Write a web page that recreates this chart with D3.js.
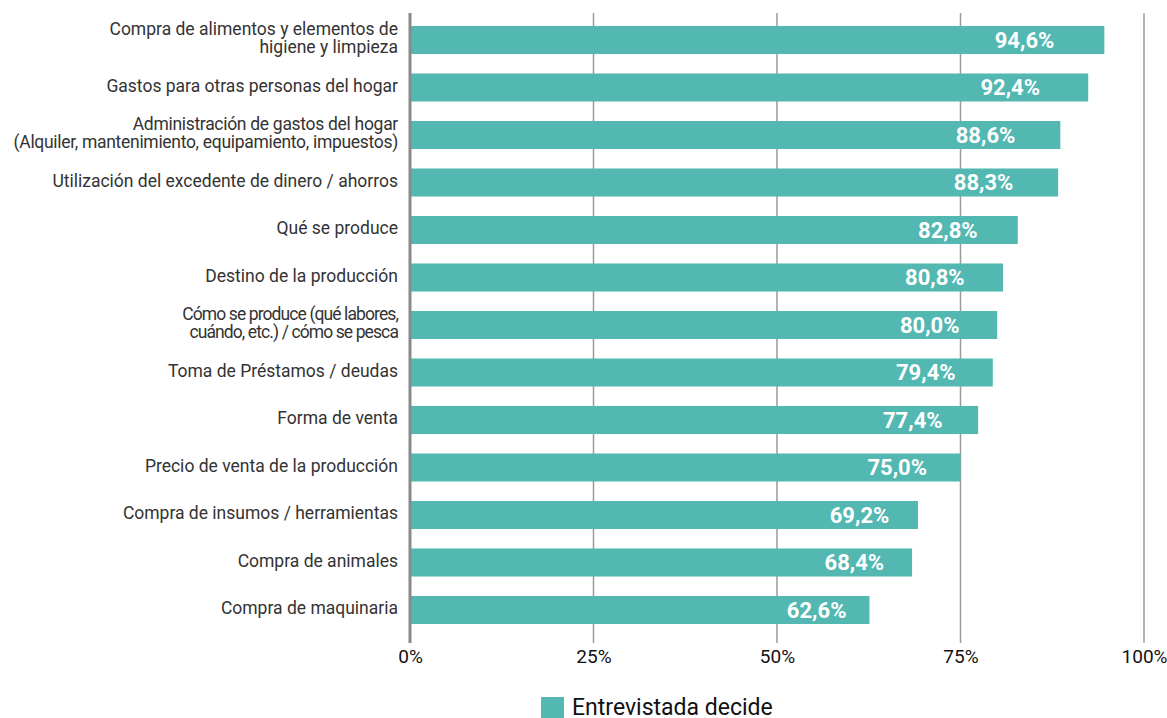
<!DOCTYPE html>
<html>
<head>
<meta charset="utf-8">
<script src="https://cdn.jsdelivr.net/npm/d3@7"></script>
<style>
  body { margin: 0; background: #fff; }
  svg { display: block; font-family: Roboto, "Noto Sans", sans-serif; }
</style>
</head>
<body>
<script>
// categories (each entry is a list of label lines), values and ticks
let categories = [
    ["Compra de alimentos y elementos de", "higiene y limpieza"],
    ["Gastos para otras personas del hogar"],
    ["Administración de gastos del hogar", "(Alquiler, mantenimiento, equipamiento, impuestos)"],
    ["Utilización del excedente de dinero / ahorros"],
    ["Qué se produce"],
    ["Destino de la producción"],
    ["Cómo se produce (qué labores,", "cuándo, etc.) / cómo se pesca"],
    ["Toma de Préstamos / deudas"],
    ["Forma de venta"],
    ["Precio de venta de la producción"],
    ["Compra de insumos / herramientas"],
    ["Compra de animales"],
    ["Compra de maquinaria"]
];
let values = [94.6, 92.4, 88.6, 88.3, 82.8, 80.8, 80.0, 79.4, 77.4, 75.0, 69.2, 68.4, 62.6];
let tick_values = [0, 25, 50, 75, 100];
let series_name = "Entrevistada decide";

let width = 1167;
let height = 718;
let bar_color = "#52b8b1";

let svg = d3.select("body").append("svg")
    .attr("width", width)
    .attr("height", height);

let x = d3.scaleLinear().domain([0, 100]).range([410, 1144]);

let keys = categories.map((c, i) => i);
let y = d3.scaleBand()
    .domain(keys)
    .range([16.25, 633.75])
    .paddingInner(0.41)
    .paddingOuter(0.205);

// vertical grid lines
svg.append("g")
    .selectAll("line")
    .data(tick_values.filter(t => t > 0))
    .join("line")
    .attr("x1", d => x(d))
    .attr("x2", d => x(d))
    .attr("y1", 13)
    .attr("y2", 643)
    .attr("stroke", "#9a9a9a")
    .attr("stroke-width", 1.5);

// bars
svg.append("g")
    .selectAll("rect")
    .data(values)
    .join("rect")
    .attr("x", x(0))
    .attr("y", (d, i) => y(i))
    .attr("width", d => x(d) - x(0))
    .attr("height", y.bandwidth())
    .attr("fill", bar_color);

// zero line on top of the bars
svg.append("line")
    .attr("x1", x(0))
    .attr("x2", x(0))
    .attr("y1", 13)
    .attr("y2", 643)
    .attr("stroke", "#8a8a8a")
    .attr("stroke-width", 3);

// value labels inside the bars
svg.append("g")
    .selectAll("text")
    .data(values)
    .join("text")
    .attr("x", d => x(d * 0.885))
    .attr("y", (d, i) => y(i) + y.bandwidth() / 2)
    .attr("dy", "0.36em")
    .attr("text-anchor", "middle")
    .attr("fill", "#fff")
    .style("font-size", "22px")
    .style("font-weight", "bold")
    .text(d => d.toFixed(1).replace(".", ",") + "%");

// category labels, right aligned
let line_height = 17.5;
let cat_labels = svg.append("g")
    .selectAll("text")
    .data(categories)
    .join("text")
    .attr("text-anchor", "end")
    .attr("fill", "#333")
    .style("font-size", "17.5px")
    .style("letter-spacing", (d, i) => i == 6 ? "-0.9px" : (i == 2 ? "-0.3px" : null))
    .attr("transform", (d, i) => {
        let cy = y(i) + y.bandwidth() / 2 - 2;
        let top = cy - (d.length - 1) * line_height / 2;
        return "translate(398," + top + ")";
    });

cat_labels.selectAll("tspan")
    .data(d => d)
    .join("tspan")
    .attr("x", 0)
    .attr("y", (d, i) => i * line_height)
    .attr("dy", "0.35em")
    .text(d => d);

// x axis tick labels
let x_axis = svg.append("g")
    .attr("transform", "translate(0,649)")
    .call(d3.axisBottom(x).tickValues(tick_values).tickFormat(d => d + "%").tickSize(0).tickPadding(0));
x_axis.select(".domain").remove();
x_axis.selectAll("text")
    .attr("fill", "#111")
    .attr("dy", "0.71em")
    .style("font-size", "19px")
    .style("font-family", "Roboto, sans-serif");

// legend
let legend = svg.append("g").attr("transform", "translate(541,697)");
legend.append("rect")
    .attr("width", 23)
    .attr("height", 21)
    .attr("fill", bar_color);
legend.append("text")
    .attr("x", 31)
    .attr("y", 17.5)
    .attr("fill", "#111")
    .style("font-size", "23px")
    .text(series_name);
</script>
</body>
</html>
